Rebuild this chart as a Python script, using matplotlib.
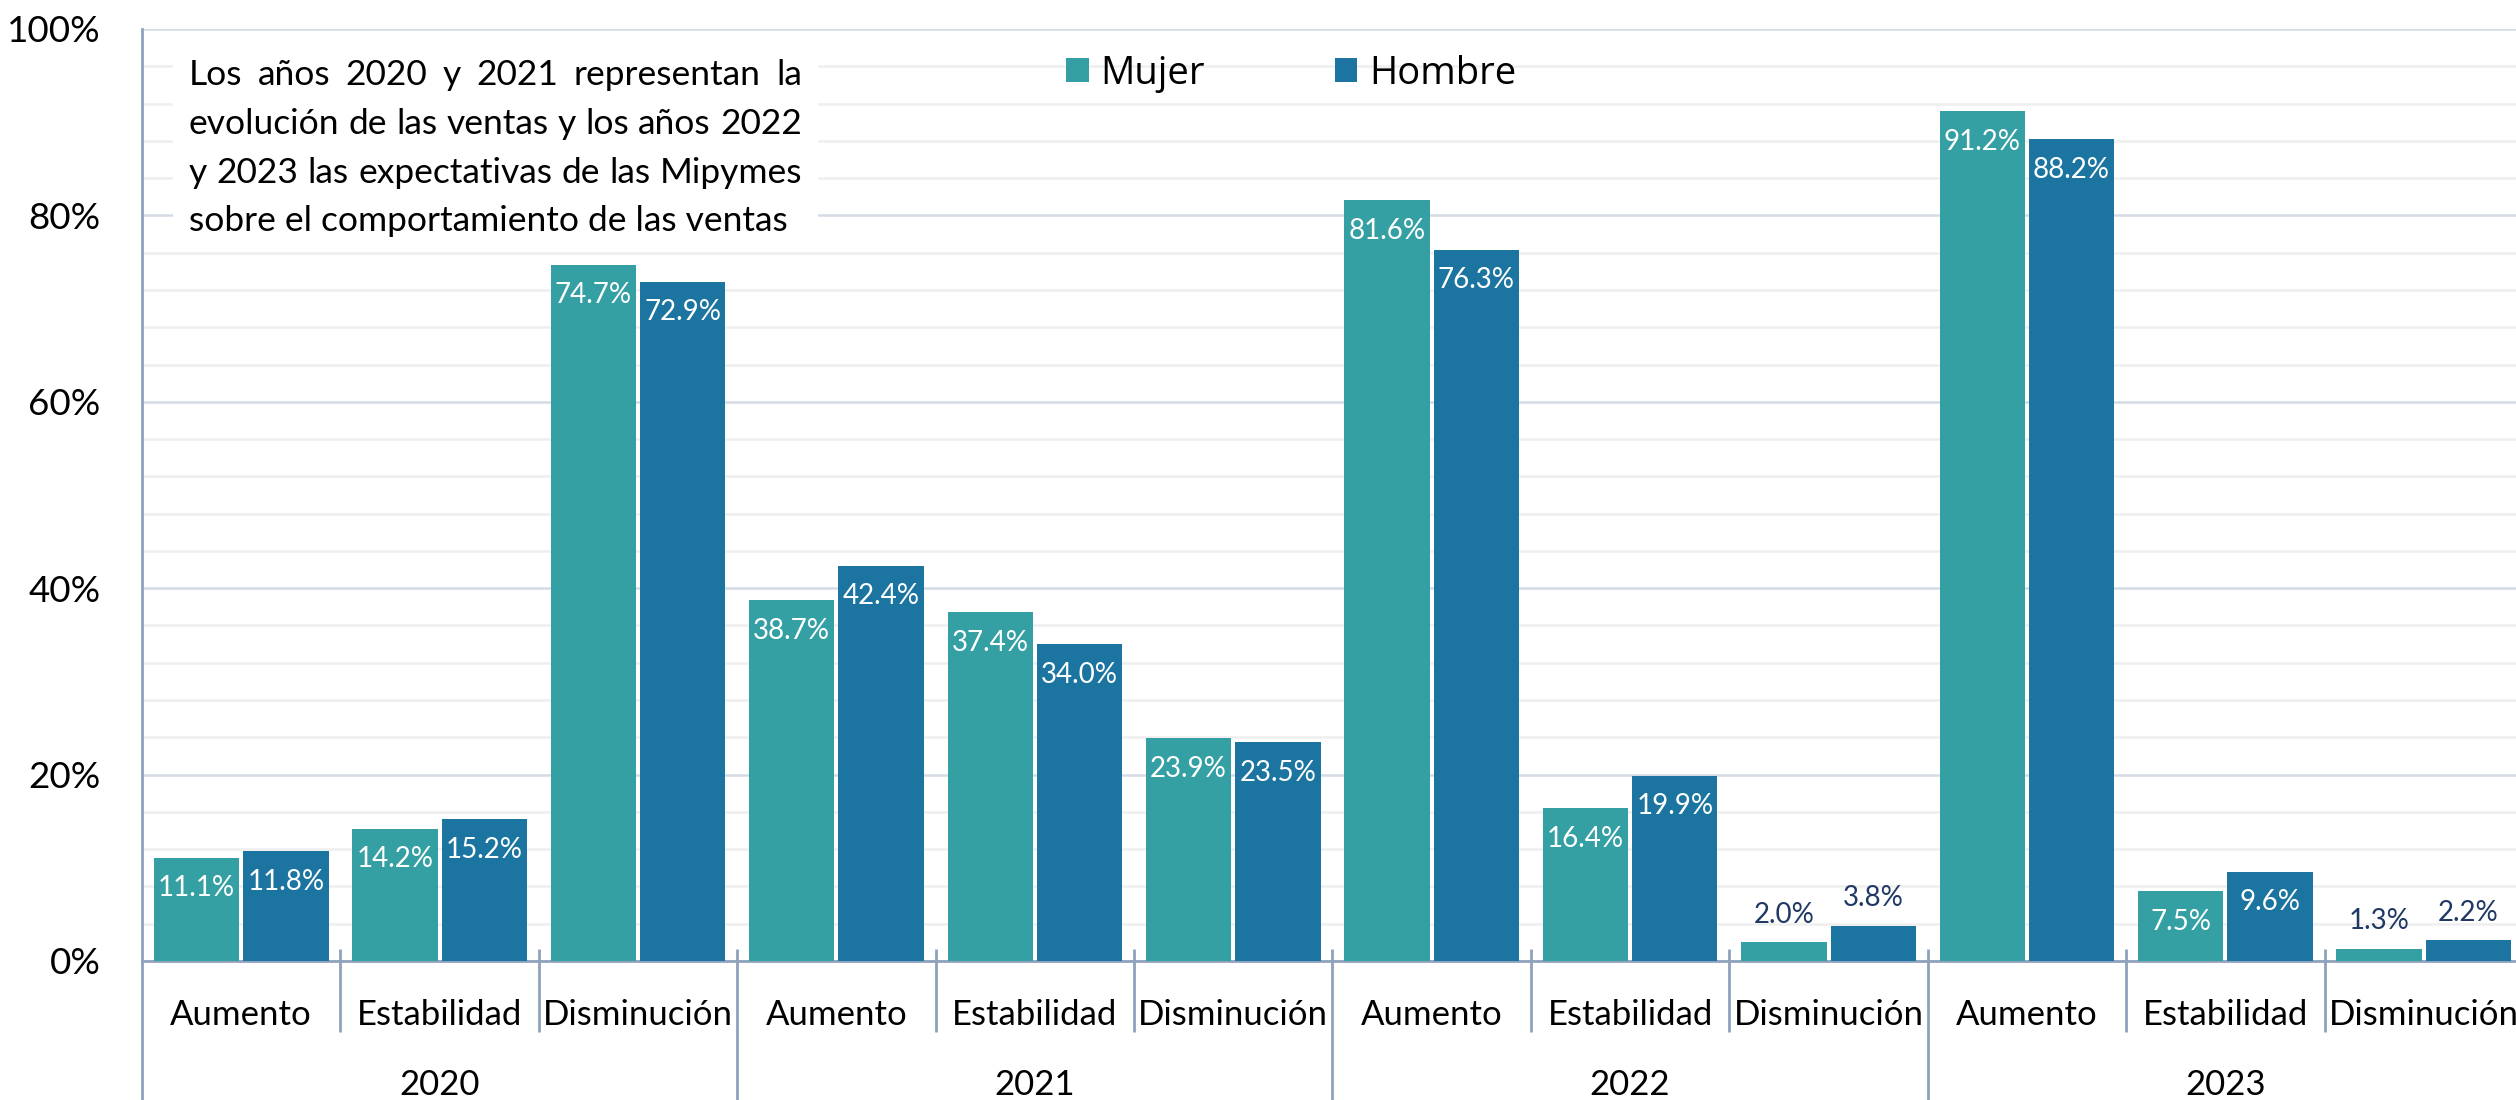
import matplotlib.pyplot as plt
from matplotlib.patches import Rectangle
import numpy as np

## Datos
years = ["2020", "2021", "2022", "2023"]
categorias = ["Aumento", "Estabilidad", "Disminución"]
mujer = [11.1, 14.2, 74.7, 38.7, 37.4, 23.9, 81.6, 16.4, 2.0, 91.2, 7.5, 1.3]
hombre = [11.8, 15.2, 72.9, 42.4, 34.0, 23.5, 76.3, 19.9, 3.8, 88.2, 9.6, 2.2]
yticks = [0, 20, 40, 60, 80, 100]
lineas = ["Los años 2020 y 2021 representan la",
          "evolución de las ventas y los años 2022",
          "y 2023 las expectativas de las Mipymes",
          "sobre el comportamiento de las ventas"]

c_mujer = "#35A0A4"
c_hombre = "#1C75A0"
c_eje = "#8FA1BD"
c_fuera = "#1F3864"

plt.rcParams['font.family'] = ['Lato', 'DejaVu Sans']

fig = plt.figure(figsize=(25.16, 11), dpi=100)
x0, x1 = 142/2516, 2523/2516
y0, y1 = (1100-961)/1100, (1100-29)/1100
ax = fig.add_axes([x0, y0, x1-x0, y1-y0])

n = len(mujer)
x = np.arange(n)
vm = np.array(mujer)/100
vh = np.array(hombre)/100
w = 0.43
bm = ax.bar(x - 0.225, vm, w, color=c_mujer, label="Mujer", zorder=3)
bh = ax.bar(x + 0.225, vh, w, color=c_hombre, label="Hombre", zorder=3)

ax.set_xlim(-0.5, n-0.5)
ax.set_ylim(0, 1)
ax.set_yticks(np.array(yticks)/100)
ax.set_yticklabels([f"{v}%" for v in yticks])
ax.set_yticks(np.arange(0, 1.001, 0.04), minor=True)
ax.set_axisbelow(True)
ax.grid(which='minor', axis='y', color='#EFEFEF', lw=1.8)
ax.grid(which='major', axis='y', color='#D5DBE5', lw=1.8)
ax.tick_params(axis='y', which='both', length=0, labelsize=26.5, pad=30)
ax.set_xticks([])
for s in ['top', 'right']:
    ax.spines[s].set_visible(False)
for s in ['left', 'bottom']:
    ax.spines[s].set_color(c_eje)
    ax.spines[s].set_linewidth(2)

## separadores del eje x
trans = ax.get_xaxis_transform()
menores = [b for b in np.arange(0.5, n-1, 1) if (b+0.5) % 3 != 0]
ax.vlines(menores, -0.0762, 0.0129, transform=trans, color=c_eje, lw=2, clip_on=False)
ax.vlines([2.5, 5.5, 8.5], -0.16, 0.0129, transform=trans, color=c_eje, lw=2, clip_on=False)
ax.vlines([-0.5], -0.16, 0, transform=trans, color=c_eje, lw=2, clip_on=False)

for i in range(n):
    ax.text(i, -0.058, categorias[i % 3], transform=trans, ha='center', va='center', fontsize=25)
for k, yr in enumerate(years):
    ax.text(3*k + 1, -0.133, yr, transform=trans, ha='center', va='center', fontsize=25)

## etiquetas
for barras, vals in [(bm, mujer), (bh, hombre)]:
    for rect, v in zip(barras, vals):
        cx = rect.get_x() + rect.get_width()/2
        if v >= 5:
            ax.annotate(f"{v:.1f}%", xy=(cx, v/100), xytext=(0, -22), textcoords='offset points',
                        ha='center', va='center', color='white', fontsize=20, zorder=4)
        else:
            ax.annotate(f"{v:.1f}%", xy=(cx, v/100), xytext=(0, 20), textcoords='offset points',
                        ha='center', va='center', color=c_fuera, fontsize=20, zorder=4)

## leyenda
ax.legend(handles=[bm, bh], labels=["Mujer", "Hombre"], loc='center left',
          bbox_to_anchor=(0.388, 0.952), ncol=2, frameon=False,
          prop={'family': 'Open Sans', 'size': 27.5}, handlelength=0.6, handleheight=0.6,
          handletextpad=0.3, columnspacing=3.4, borderpad=0, borderaxespad=0)

## nota justificada
ax.add_patch(Rectangle((0.013, 0.78), 0.271, 0.185, transform=ax.transAxes,
                       facecolor='white', edgecolor='none', zorder=2))
fs = 25.5
izq, der = 0.0197, 0.2772
ys = [0.9506, 0.898, 0.846, 0.794]
fig.canvas.draw()
r = fig.canvas.get_renderer()
ancho_ax = ax.get_window_extent(r).width
for k, linea in enumerate(lineas):
    if k == len(lineas) - 1:
        ax.text(izq, ys[k], linea, transform=ax.transAxes, fontsize=fs, va='center', zorder=4)
        continue
    palabras = linea.split()
    textos = [ax.text(0, ys[k], p, transform=ax.transAxes, fontsize=fs, va='center', zorder=4)
              for p in palabras]
    anchos = [t.get_window_extent(r).width / ancho_ax for t in textos]
    hueco = (der - izq - sum(anchos)) / (len(palabras) - 1)
    pos = izq
    for t, a in zip(textos, anchos):
        t.set_x(pos)
        pos += a + hueco

fig.savefig("out.png", dpi=100)
